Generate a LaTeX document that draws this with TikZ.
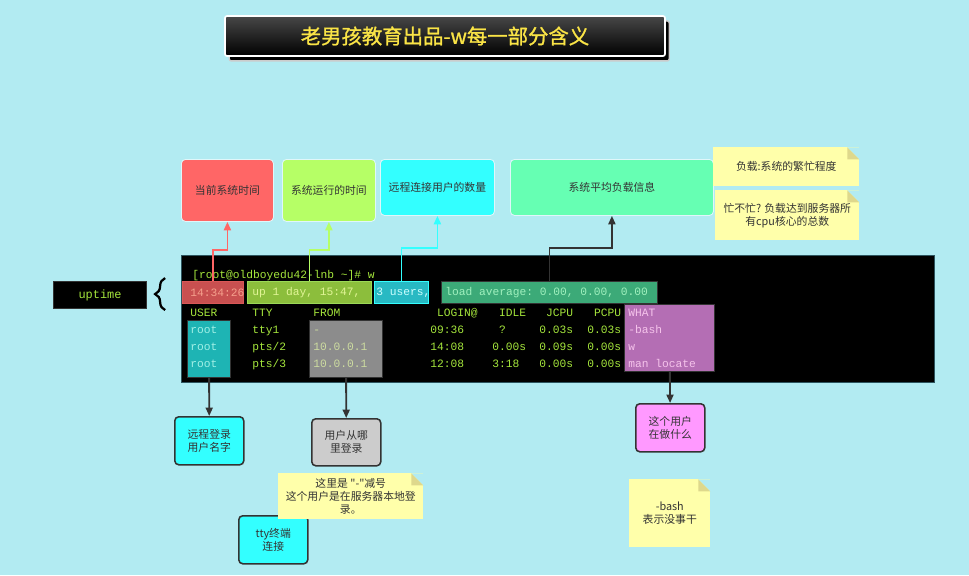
\documentclass[tikz,border=0pt]{standalone}
\usepackage{fontspec}
\setmainfont{Noto Sans CJK SC}
\setmonofont{Liberation Mono}
\newfontfamily\titlefont[FakeBold=1.2]{Noto Sans CJK SC}
\usetikzlibrary{arrows.meta, calc, shadows, decorations.pathreplacing}

\definecolor{pagebg}{RGB}{178,235,242}
\definecolor{titleyellow}{RGB}{250,228,70}
\definecolor{inkgray}{RGB}{51,51,51}
\definecolor{boxred}{RGB}{255,102,102}
\definecolor{boxlime}{RGB}{182,255,102}
\definecolor{boxcyan}{RGB}{51,255,255}
\definecolor{boxmint}{RGB}{102,255,179}
\definecolor{boxgray}{RGB}{204,204,204}
\definecolor{boxpink}{RGB}{255,153,255}
\definecolor{notefill}{RGB}{255,255,170}
\definecolor{notefold}{RGB}{222,216,140}
\definecolor{termgreen}{RGB}{165,230,60}
\definecolor{termedge}{RGB}{45,85,95}
\definecolor{hlred}{RGB}{200,80,80}
\definecolor{hlredtext}{RGB}{245,160,140}
\definecolor{hllime}{RGB}{140,190,60}
\definecolor{hllimetext}{RGB}{225,245,150}
\definecolor{hlcyan}{RGB}{40,185,195}
\definecolor{hlcyantext}{RGB}{205,255,255}
\definecolor{hlload}{RGB}{60,170,120}
\definecolor{hlloadtext}{RGB}{160,240,190}
\definecolor{hlteal}{RGB}{30,180,180}
\definecolor{usertext}{RGB}{160,240,230}
\definecolor{hlgray}{RGB}{140,140,140}
\definecolor{fromtext}{RGB}{205,220,160}
\definecolor{hlpurple}{RGB}{180,110,180}
\definecolor{whattext}{RGB}{245,195,235}

\newlength{\pxu}
\setlength{\pxu}{0.025cm}
\newcommand{\boxfont}{\fontsize{7.7}{9.2}\selectfont}
\newcommand{\termfont}{\ttfamily\fontsize{8}{12.1}\selectfont}

\begin{document}
\begin{tikzpicture}[
	  x=0.025cm, y=-0.025cm,
	  infobox/.style={rectangle, rounded corners=4\pxu, draw=white!60!pagebg, line width=0.6pt, anchor=north west, text=inkgray, font=\boxfont},
	  callout/.style={rectangle, rounded corners=4\pxu, draw=inkgray, line width=1.1pt, anchor=north west, align=center, text=inkgray, font=\boxfont},
	  note/.style={rectangle, fill=notefill, anchor=north west, align=center, text=inkgray, font=\boxfont,
	    path picture={\fill[pagebg] (path picture bounding box.north east) -- ++(-12,0) -- ++(12,12) -- cycle;
	      \fill[notefold] ($(path picture bounding box.north east)+(-12,0)$) -- ++(0,12) -- ++(12,0) -- cycle;}},
	  hl/.style={rectangle, anchor=north west, line width=0.8pt, inner sep=0pt},
	  term/.style={anchor=west, inner sep=0pt, align=left, text=termgreen, font=\termfont},
	  arrow/.style={line width=1.3pt, -{Triangle[length=6pt, width=5pt]}},
	  brace/.style={decorate, decoration={brace, amplitude=10\pxu}, line width=1.6pt}
	]

	\fill[pagebg] (0,0) rectangle (969,575);
	\useasboundingbox (0,0) rectangle (969,575);

	\node (title) [rectangle, rounded corners=2\pxu, draw=white, line width=1.2pt, top color=black!72, bottom color=black, minimum width=440\pxu, minimum height=40\pxu, text=titleyellow, font=\titlefont\fontsize{14.5}{18}\selectfont, general shadow={shadow xshift=3pt, shadow yshift=-3.5pt, fill=black, draw=white!80!black, line width=1pt}] at (445,36) {老男孩教育出品-w每一部分含义};

	% what each part of the first line means
	\node (curtime) [infobox, fill=boxred, minimum width=92\pxu, minimum height=62\pxu] at (181,159) {当前系统时间};
	\node (runtime) [infobox, fill=boxlime, minimum width=93\pxu, minimum height=62\pxu] at (282,159) {系统运行的时间};
	\node (userscount) [infobox, fill=boxcyan, minimum width=114\pxu, minimum height=56\pxu] at (380,159) {远程连接用户的数量};
	\node (loadinfo) [infobox, fill=boxmint, minimum width=203\pxu, minimum height=56\pxu] at (510,159) {系统平均负载信息};
	\node (loadnote) [note, minimum width=146\pxu, minimum height=39\pxu] at (713,147) {负载:系统的繁忙程度};
	\node (busynote) [note, minimum width=144\pxu, minimum height=50\pxu] at (715,190) {忙不忙? 负载达到服务器所\\有cpu核心的总数};

	% terminal
	\node (terminal) [rectangle, fill=black, draw=termedge, line width=1pt, anchor=north west, minimum width=753\pxu, minimum height=127\pxu] at (181,255) {};
	\node (hltime) [hl, fill=hlred, draw=boxred!85!black, minimum width=61\pxu, minimum height=22\pxu] at (182,281) {};
	\node (hlup) [hl, fill=hllime, draw=boxlime!85!black, minimum width=124\pxu, minimum height=22\pxu] at (247,281) {};
	\node (hlusers) [hl, fill=hlcyan, draw=boxcyan, minimum width=54\pxu, minimum height=22\pxu] at (374,281) {};
	\node (hlload) [hl, fill=hlload, draw=inkgray, minimum width=216\pxu, minimum height=22\pxu] at (441,281) {};
	\node (userbg) [hl, fill=hlteal, draw=inkgray, minimum width=43\pxu, minimum height=57\pxu] at (187,320) {};
	\node (frombg) [hl, fill=hlgray, draw=inkgray, minimum width=73\pxu, minimum height=57\pxu] at (309,320) {};
	\node (whatbg) [hl, fill=hlpurple, draw=inkgray, minimum width=90\pxu, minimum height=67\pxu] at (624,304) {};

	\node (prompt) [term] at (192,276) {[root@oldboyedu42-lnb \textasciitilde]\# w};
	\node (timetxt) [term, text=hlredtext] at (190,293) {14:34:26};
	\node (uptxt) [term, text=hllimetext] at (252,293) {up 1 day, 15:47,};
	\node (userstxt) [term, text=hlcyantext] at (376,293) {3 users,};
	\node (loadtxt) [term, text=hlloadtext] at (445,293) {load average: 0.00, 0.00, 0.00};
	\node (usercol) [term, text=usertext] at (190,339) {\strut\textcolor{termgreen}{USER}\\root\\root\\root\strut};
	\node (ttycol) [term] at (252,339) {\strut TTY\\tty1\\pts/2\\pts/3\strut};
	\node (fromcol) [term, text=fromtext] at (313,339) {\strut\textcolor{termgreen}{FROM}\\-\\10.0.0.1\\10.0.0.1\strut};
	\node (logincol) [term] at (430,339) {\strut\phantom{0}LOGIN@\\09:36\\14:08\\12:08\strut};
	\node (idlecol) [term] at (492,339) {\strut\phantom{0}IDLE\\\phantom{0}?\\0.00s\\3:18\strut};
	\node (jcpucol) [term] at (539,339) {\strut\phantom{0}JCPU\\0.03s\\0.09s\\0.00s\strut};
	\node (pcpucol) [term] at (587,339) {\strut\phantom{0}PCPU\\0.03s\\0.00s\\0.00s\strut};
	\node (whatcol) [term, text=whattext] at (628,339) {\strut WHAT\\-bash\\w\\man locate\strut};

	\node (uptime) [rectangle, fill=black, draw=inkgray, line width=0.8pt, anchor=north west, minimum width=93\pxu, minimum height=27\pxu, text=termgreen, font=\ttfamily\fontsize{8.5}{10}\selectfont] at (53,281) {uptime};
	\draw [brace] ($(uptime.east)+(18,15)$) -- ($(uptime.east)+(18,-17)$);

	% what each column means
	\node (remoteuser) [callout, fill=boxcyan, minimum width=69\pxu, minimum height=48\pxu] at (174,416) {远程登录\\用户名字};
	\node (wherefrom) [callout, fill=boxgray, minimum width=69\pxu, minimum height=47\pxu] at (311,418) {用户从哪\\里登录};
	\node (doingwhat) [callout, fill=boxpink, minimum width=69\pxu, minimum height=48\pxu] at (635,403) {这个用户\\在做什么};
	\node (ttyconn) [callout, fill=boxcyan, minimum width=69\pxu, minimum height=48\pxu] at (238,515) {tty终端\\连接};
	\node (localnote) [note, minimum width=145\pxu, minimum height=40\pxu] at (278,473) {这里是\ \textquotedbl-\textquotedbl 减号\\这个用户是在服务器本地登\\录。};
	\node (bashnote) [note, minimum width=81\pxu, minimum height=68\pxu] at (629,479) {-bash\\表示没事干};

	\draw [arrow, color=boxred] (hltime.north) -- ++(0,-31) -| (curtime.south);
	\draw [arrow, color=boxlime] (hlup.north) -- ++(0,-31) -| (runtime.south);
	\draw [arrow, color=boxcyan] (hlusers.north) -- ++(0,-33) -| (userscount.south);
	\draw [arrow, color=inkgray] (hlload.north) -- ++(0,-33) -| (loadinfo.south);
	\draw [arrow, color=inkgray] (userbg) -- (remoteuser);
	\draw [arrow, color=inkgray] (frombg) -- (wherefrom);
	\draw [arrow, color=inkgray] (whatbg) -- (doingwhat);

	\end{tikzpicture}
\end{document}
